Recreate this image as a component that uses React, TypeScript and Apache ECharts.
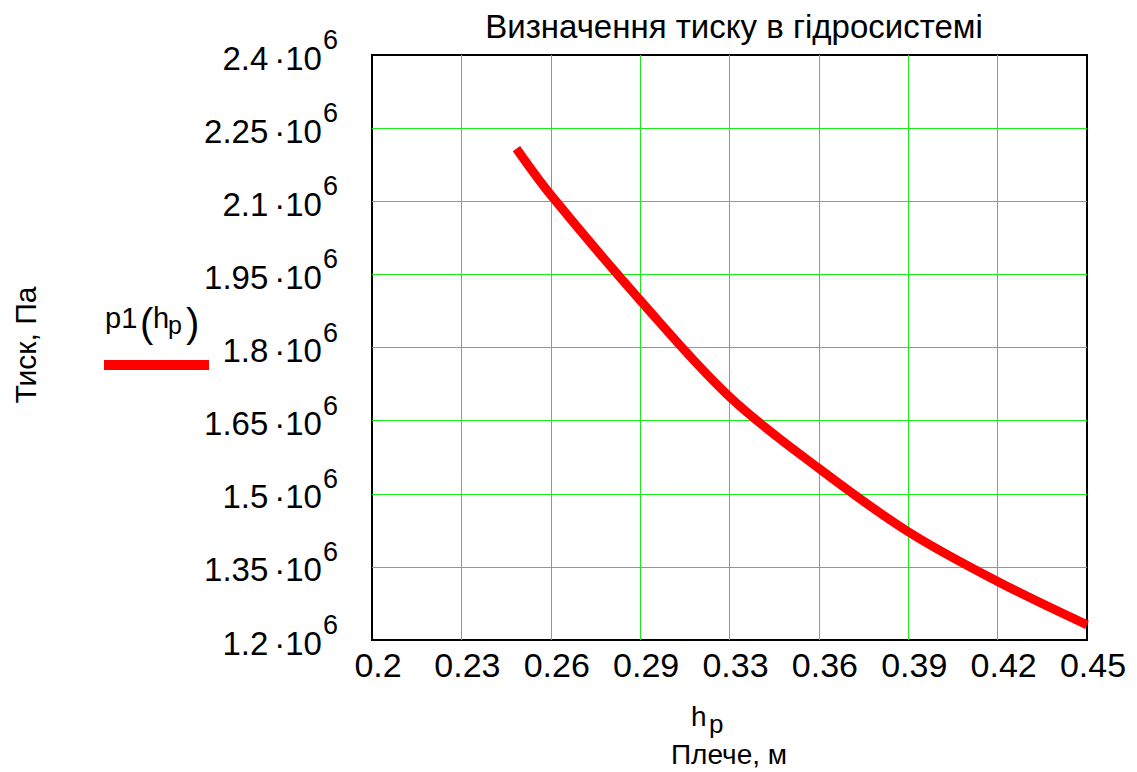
import React, { useEffect, useRef } from "react";
import * as echarts from "echarts";

// Curve p1(h_p): lever arm h (m) -> pressure (Pa)
const hValues = [0.2505, 0.2625, 0.29375, 0.325, 0.35625, 0.3875, 0.41875, 0.45];
const pValues = [2208000, 2113000, 1897000, 1699000, 1552000, 1422000, 1320000, 1231000];

// Axis ranges and tick labels
const xMin = 0.2;
const xMax = 0.45;
const xTickLabels = ["0.2", "0.23", "0.26", "0.29", "0.33", "0.36", "0.39", "0.42", "0.45"];
const yMin = 1200000;
const yMax = 2400000;
const yStep = 150000;
const yTickLabels = ["1.2", "1.35", "1.5", "1.65", "1.8", "1.95", "2.1", "2.25", "2.4"];
const yExponent = "6";

// Texts
const titleText = "Визначення тиску в гідросистемі";
const yAxisTitle = "Тиск, Па";
const xAxisTitle = "Плече, м";
const xVarName = "h";
const xVarSub = "p";
const legendFn = "p1";

const FONT = "'Liberation Sans', Arial, Helvetica, sans-serif";
const GRID_GREEN = "#19ec19";

export default function App() {
  const ref = useRef<HTMLDivElement>(null);

  useEffect(() => {
    if (!ref.current) return;
    const chart = echarts.init(ref.current, null, { renderer: "svg" });
    const data = hValues.map((h, i) => [h, pValues[i]]);
    const nTicks = xTickLabels.length - 1;

    chart.setOption({
      animation: false,
      backgroundColor: "#ffffff",
      grid: {
        left: 372,
        top: 55,
        width: 715,
        height: 585,
        show: true,
        borderColor: "#000000",
        borderWidth: 2,
        backgroundColor: "transparent",
      },
      xAxis: [
        {
          type: "value",
          min: xMin,
          max: xMax,
          show: false,
        },
        {
          type: "value",
          min: 0,
          max: nTicks,
          interval: 1,
          position: "bottom",
          axisLine: { show: false },
          axisTick: { show: false },
          splitLine: {
            show: true,
            showMinLine: false,
            showMaxLine: false,
            lineStyle: { color: GRID_GREEN, width: 1, type: "solid" },
          },
          axisLabel: {
            show: true,
            margin: 8,
            fontFamily: FONT,
            fontSize: 34,
            color: "#000",
            padding: [0, 0, 0, 12],
            formatter: (v: number) => xTickLabels[Math.round(v)] ?? "",
          },
        },
      ],
      yAxis: {
        type: "value",
        min: yMin,
        max: yMax,
        interval: yStep,
        axisLine: { show: false },
        axisTick: { show: false },
        splitLine: {
          show: true,
          showMinLine: false,
          showMaxLine: false,
          lineStyle: { color: GRID_GREEN, width: 1, type: "solid" },
        },
        axisLabel: {
          show: true,
          margin: 34,
          formatter: (v: number) => {
            const idx = Math.round((v - yMin) / yStep);
            return `{n|${yTickLabels[idx]}}{d|·}{n|10}{s|${yExponent}}`;
          },
          rich: {
            n: { fontFamily: FONT, fontSize: 33, color: "#000", padding: [6, 0, 0, 0] },
            d: { fontFamily: FONT, fontSize: 33, color: "#000", padding: [6, 0, 0, 6] },
            s: { fontFamily: FONT, fontSize: 27, color: "#000", padding: [0, 0, 30, 1] },
          },
        },
      },
      series: [
        {
          type: "line",
          xAxisIndex: 0,
          yAxisIndex: 0,
          data,
          showSymbol: false,
          symbol: "none",
          smooth: 0.35,
          lineStyle: { color: "#ff0000", width: 9, cap: "butt", join: "round" },
          clip: true,
          z: 3,
        },
      ],
      graphic: [
        {
          type: "text",
          x: 734,
          y: 26,
          style: {
            text: titleText,
            font: `33px ${FONT}`,
            fill: "#000",
            textAlign: "center",
            textVerticalAlign: "middle",
          },
        },
        {
          type: "text",
          x: 25,
          y: 345,
          rotation: Math.PI / 2,
          style: {
            text: yAxisTitle,
            font: `30px ${FONT}`,
            fill: "#000",
            textAlign: "center",
            textVerticalAlign: "middle",
          },
        },
        // legend: p1(h_p) with red sample line
        {
          type: "text",
          x: 105,
          y: 318,
          style: { text: legendFn, font: `29px ${FONT}`, fill: "#000", textAlign: "left", textVerticalAlign: "middle" },
        },
        {
          type: "text",
          x: 140,
          y: 323,
          style: { text: "(", font: `40px ${FONT}`, fill: "#000", textAlign: "left", textVerticalAlign: "middle" },
        },
        {
          type: "text",
          x: 153,
          y: 318,
          style: { text: xVarName, font: `29px ${FONT}`, fill: "#000", textAlign: "left", textVerticalAlign: "middle" },
        },
        {
          type: "text",
          x: 168,
          y: 325,
          style: { text: xVarSub, font: `25px ${FONT}`, fill: "#000", textAlign: "left", textVerticalAlign: "middle" },
        },
        {
          type: "text",
          x: 186,
          y: 323,
          style: { text: ")", font: `40px ${FONT}`, fill: "#000", textAlign: "left", textVerticalAlign: "middle" },
        },
        {
          type: "rect",
          shape: { x: 104, y: 360, width: 105, height: 10 },
          style: { fill: "#ff0000" },
        },
        // x axis name: h_p and "Плече, м"
        {
          type: "text",
          x: 691,
          y: 716,
          style: { text: xVarName, font: `28px ${FONT}`, fill: "#000", textAlign: "left", textVerticalAlign: "middle" },
        },
        {
          type: "text",
          x: 709,
          y: 724,
          style: { text: xVarSub, font: `26px ${FONT}`, fill: "#000", textAlign: "left", textVerticalAlign: "middle" },
        },
        {
          type: "text",
          x: 729,
          y: 754,
          style: { text: xAxisTitle, font: `28px ${FONT}`, fill: "#000", textAlign: "center", textVerticalAlign: "middle" },
        },
      ],
    });

    return () => {
      chart.dispose();
    };
  }, []);

  return (
    <div
      ref={ref}
      style={{ position: "fixed", left: 0, top: 0, width: 1137, height: 772, background: "#fff" }}
    />
  );
}
